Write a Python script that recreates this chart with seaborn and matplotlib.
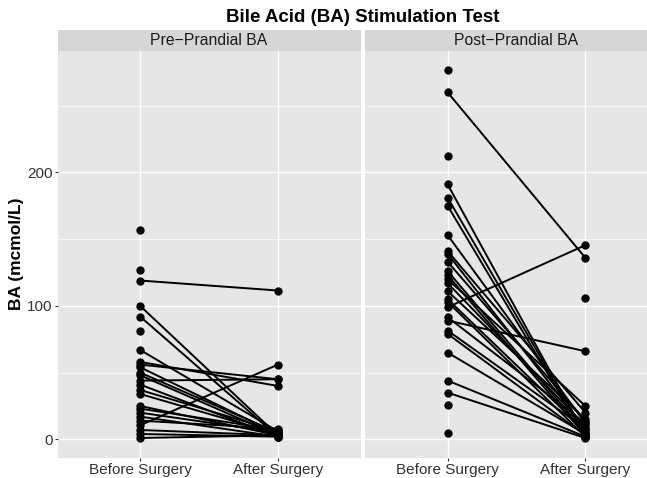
import numpy as np
import pandas as pd
import matplotlib
matplotlib.use("Agg")
import matplotlib.pyplot as plt
import seaborn as sns

nan = np.nan

title = "Bile Acid (BA) Stimulation Test"
panels = ["Pre\u2212Prandial BA", "Post\u2212Prandial BA"]
times = ["Before Surgery", "After Surgery"]
y_label = "BA (mcmol/L)"
y_ticks = [0, 100, 200]

pre_before = [157, 127, 119, 100, 92, 81, 67, 58, 56, 54, 50, 48, 44, 41, 37, 34,
              25, 23, 20, 17, 14, 10.5, 7, 4, 1]
pre_after = [nan, nan, 111.5, 3, 2, nan, 6, 40, 45, 4, 5, 3, 45, 2, 6, 4,
             3, 7, 5, 2, 8, 56, 3, 2, 3]

post_before = [277, 260, 212, 191, 181, 175, 153, 141, 139, 133, 126, 123, 120, 117,
               111, 105, 103, 99, 91.5, 89, 81.5, 79, 65, 44, 35, 26, 5, nan]
post_after = [nan, 136, nan, 3, 4, 2, 12, 20, 8, 14, 5, 3, 25, 10,
              15, 6, 2, 145.5, 12, 66, 8, 3, 4, 2, 1, nan, nan, 106]

rows = []
for panel, before, after in [(panels[0], pre_before, pre_after),
                             (panels[1], post_before, post_after)]:
    for i, (b, a) in enumerate(zip(before, after)):
        rows.append((panel, f"{panel}-{i}", times[0], b))
        rows.append((panel, f"{panel}-{i}", times[1], a))
df = pd.DataFrame(rows, columns=["panel", "id", "time", "value"])
df["pos"] = df["time"].map({t: i for i, t in enumerate(times)})

sns.set_theme(style="white")
plt.rcParams["font.family"] = ["Liberation Sans", "DejaVu Sans"]

W, H = 647, 478
fig = plt.figure(figsize=(W / 100, H / 100), dpi=100)

panel_top, panel_bot = 51, 458
strip_top = 30
lefts = [57.5, 365]
pw = 303

for k, panel in enumerate(panels):
    ax = fig.add_axes([lefts[k] / W, 1 - panel_bot / H, pw / W, (panel_bot - panel_top) / H])
    ax.set_facecolor("#E6E6E6")
    sub = df[df["panel"] == panel]
    lines = sub.dropna(subset=["value"])
    counts = lines.groupby("id")["value"].transform("count")
    lines = lines[counts == 2]
    sns.lineplot(data=lines, x="pos", y="value", units="id", estimator=None,
                 color="black", lw=1.4, ax=ax, legend=False, zorder=3)
    sns.scatterplot(data=sub.dropna(subset=["value"]), x="pos", y="value",
                    color="black", s=36, linewidth=0, ax=ax, legend=False, zorder=4)
    ax.set_xlim(-0.6, 1.6)
    ax.set_ylim(-14, 291)
    ax.set_xticks(range(len(times)))
    ax.set_xticklabels(times)
    ax.set_yticks(y_ticks)
    ax.set_yticks([50, 150, 250], minor=True)
    ax.grid(True, which="major", color="white", lw=1.0)
    ax.grid(True, which="minor", axis="y", color="white", lw=0.5)
    ax.set_axisbelow(True)
    for s in ax.spines.values():
        s.set_visible(False)
    ax.set_xlabel("")
    ax.set_ylabel("")
    ax.tick_params(axis="both", which="major", length=2.5, width=0.8, color="#333333",
                   labelsize=11, labelcolor="#333333", pad=1, bottom=True, left=(k == 0))
    ax.tick_params(axis="both", which="minor", length=0)
    if k > 0:
        ax.set_yticklabels([])

    sax = fig.add_axes([lefts[k] / W, 1 - panel_top / H, pw / W, (panel_top - strip_top) / H])
    sax.set_facecolor("#D6D6D6")
    sax.set_xticks([])
    sax.set_yticks([])
    for s in sax.spines.values():
        s.set_visible(False)
    sax.text(0.5, 0.48, panel, ha="center", va="center", fontsize=11.3,
             color="#1A1A1A", transform=sax.transAxes)

fig.text((57.5 + 668) / 2 / W, 1 - 17 / H, title, ha="center", va="center",
         fontsize=13.5, fontweight="bold", color="black")
fig.text(17 / W, 1 - 254 / H, y_label, ha="center", va="center", rotation=90,
         fontsize=12.5, fontweight="bold", color="black")

fig.savefig("out.png", dpi=100, facecolor="white")
